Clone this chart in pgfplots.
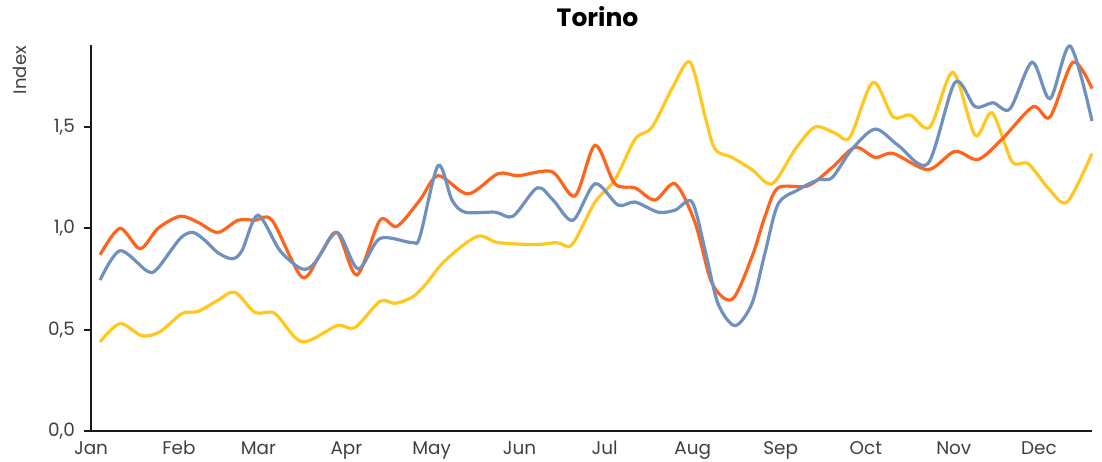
\documentclass[border=0pt]{standalone}
\usepackage{pgfplots}
\pgfplotsset{compat=1.18}
\usepackage{fontspec}
\setmainfont{Poppins}
\definecolor{cOrange}{RGB}{255,99,28}
\definecolor{cBlue}{RGB}{112,145,190}
\definecolor{cYellow}{RGB}{255,200,32}
\definecolor{cText}{RGB}{64,64,64}
\definecolor{cAxis}{RGB}{26,26,26}
\begin{document}
\begin{tikzpicture}
\useasboundingbox (-45.5pt,-15pt) rectangle (505.5pt,215.5pt);
\begin{axis}[
  at={(0,0)}, anchor=south west,
  scale only axis, width=500.5pt, height=193pt,
  xmin=0, xmax=352.7, ymin=0, ymax=1.905,
  axis x line*=bottom, axis y line*=left,
  axis line style={draw=cAxis, line width=1.2pt, -},
  xtick={0,31,59,90,120,151,181,212,243,273,304,334},
  xticklabels={Jan,Feb,Mar,Apr,May,Jun,Jul,Aug,Sep,Oct,Nov,Dec},
  ytick={0,0.5,1,1.5},
  x tick style={draw=none},
  y tick style={draw=cAxis, line width=1pt},
  major tick length=3.5pt, tick align=outside,
  tick label style={font=\fontsize{9.2}{10}\selectfont, text=cText},
  yticklabel style={xshift=-1pt},
  xticklabel style={anchor=base, yshift=-8.2pt, inner sep=0pt},
  /pgf/number format/assume math mode=true,
  /pgf/number format/.cd, use comma, fixed, fixed zerofill, precision=1, /pgfplots/.cd,
  title={Torino},
  title style={font=\bfseries\fontsize{12.5}{14}\selectfont, text=black, at={(axis description cs:0.5,1)}, anchor=base, yshift=3pt, xshift=3pt},
  ylabel={Index},
  ylabel style={font=\fontsize{9}{10}\selectfont, text=cText, at={(axis description cs:-0.0709,0.935)}, anchor=center},
  every axis plot/.append style={line width=1.6pt, smooth, no markers},
  clip=false,
]
\addplot[cYellow] coordinates {
(3.2,0.44)(10.2,0.53)(18.0,0.47)(24.3,0.49)(32.1,0.58)(37.7,0.59)(44.7,0.645)(50.7,0.685)
(57.8,0.585)(64.8,0.58)(74.3,0.44)(86.7,0.52)(93.0,0.51)(101.8,0.64)(107.1,0.63)(113.1,0.66)
(117.7,0.72)(124.7,0.84)(136.0,0.96)(143.4,0.93)(156.4,0.92)(164.2,0.93)(169.5,0.92)
(177.6,1.13)(184.6,1.24)(191.7,1.44)(197.7,1.50)(205.1,1.70)(211.1,1.82)(216.4,1.55)
(219.9,1.39)(225.9,1.35)(232.9,1.29)(240.0,1.22)(248.1,1.39)(255.1,1.50)(262.2,1.47)
(267.4,1.45)(275.5,1.72)(282.6,1.55)(288.6,1.56)(295.6,1.50)(303.7,1.77)(311.5,1.46)
(317.5,1.57)(324.5,1.33)(330.2,1.32)(337.2,1.20)(343.9,1.13)(352.7,1.37)
};
\addplot[cOrange] coordinates {
(3.2,0.87)(10.2,1.00)(17.3,0.90)(23.6,1.00)(31.4,1.06)(37.7,1.03)(44.7,0.98)(51.8,1.04)
(57.8,1.04)(63.8,1.04)(74.3,0.76)(80.7,0.87)(86.7,0.98)(93.7,0.77)(101.8,1.04)(107.8,1.01)
(115.9,1.14)(122.3,1.26)(132.8,1.17)(143.4,1.27)(150.5,1.26)(162.4,1.28)(170.5,1.16)
(177.6,1.41)(184.6,1.22)(191.7,1.20)(198.7,1.14)(205.8,1.22)(212.8,1.03)(218.8,0.73)
(225.9,0.65)(232.9,0.86)(237.5,1.06)(242.1,1.20)(252.6,1.21)(261.1,1.30)(269.2,1.40)
(276.3,1.35)(282.6,1.37)(294.9,1.29)(304.4,1.38)(312.5,1.34)(321.0,1.44)(331.9,1.60)
(337.9,1.55)(346.0,1.82)(352.7,1.69)
};
\addplot[cBlue] coordinates {
(3.2,0.745)(10.2,0.89)(19.7,0.79)(23.3,0.80)(31.4,0.95)(35.9,0.98)(40.2,0.94)(44.7,0.88)
(49.7,0.85)(53.2,0.89)(58.8,1.065)(66.6,0.89)(74.3,0.80)(78.9,0.83)(86.7,0.98)(94.1,0.80)
(101.8,0.95)(113.1,0.93)(115.9,0.96)(122.3,1.31)(127.2,1.14)(131.8,1.08)(142.4,1.08)
(148.7,1.06)(157.2,1.20)(162.8,1.14)(169.8,1.04)(177.6,1.22)(185.7,1.115)(191.7,1.13)
(199.8,1.08)(205.8,1.09)(211.8,1.13)(216.4,0.89)(220.9,0.63)(226.9,0.52)(232.9,0.63)
(237.5,0.88)(242.1,1.12)(249.1,1.19)(256.2,1.24)(261.1,1.25)(268.1,1.39)(276.3,1.49)
(284.4,1.41)(294.9,1.32)(304.4,1.72)(311.5,1.60)(317.8,1.62)(323.8,1.59)(331.6,1.82)
(337.9,1.64)(345.0,1.90)(352.7,1.53)
};
\end{axis}
\end{tikzpicture}
\end{document}
